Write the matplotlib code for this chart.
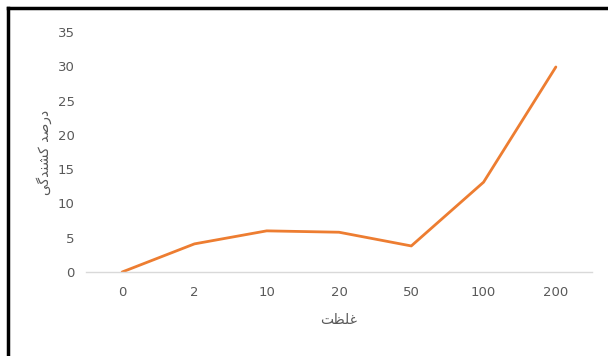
import matplotlib
matplotlib.use("Agg")
import matplotlib.pyplot as plt
from matplotlib.lines import Line2D

categories = ["0", "2", "10", "20", "50", "100", "200"]
mortality = [0, 4.1, 6.0, 5.8, 3.8, 13.1, 29.9]
y_ticks = [0, 5, 10, 15, 20, 25, 30, 35]

# Persian labels in shaped presentation forms, visual order
y_label = "\uFBFD\uFB94\uFEAA\uFEE8\uFEB8\uFB90 \uFEAA\uFEBB\uFEAD\uFEA9"  # درصد کشندگی
x_label = "\uFE96\uFEC8\uFEE0\uFECF"  # غلظت

plt.rcParams['font.family'] = ['DejaVu Sans', 'Noto Sans']

W, H = 608, 356
fig = plt.figure(figsize=(W / 100, H / 100), dpi=100)
ax = fig.add_axes([86 / W, 1 - 272 / H, (592 - 86) / W, (272 - 32) / H])

x = list(range(len(categories)))
ax.plot(x, mortality, color="#ED7D31", linewidth=2.0, solid_capstyle="round")

ax.set_xlim(-0.5, len(categories) - 0.5)
ax.set_ylim(0, 35)
ax.set_yticks(y_ticks)
ax.set_xticks(x)
ax.set_xticklabels(categories)
ax.tick_params(axis="both", length=0, colors="#595959", labelsize=9.5)
ax.tick_params(axis="y", pad=8)
ax.tick_params(axis="x", pad=10)

for s in ["top", "right", "left"]:
    ax.spines[s].set_visible(False)
ax.spines["bottom"].set_color("#D9D9D9")
ax.spines["bottom"].set_linewidth(1)

ax.set_xlabel(x_label, color="#595959", fontsize=10, labelpad=10)
ax.set_ylabel(y_label, color="#595959", fontsize=10, rotation=90, labelpad=4)

# outer frame (left and top edges visible)
fig.add_artist(Line2D([8 / W, 8 / W], [0, 1 - 8 / H], transform=fig.transFigure, color="black", linewidth=2.5))
fig.add_artist(Line2D([8 / W, 1], [1 - 8 / H, 1 - 8 / H], transform=fig.transFigure, color="black", linewidth=2.5))

fig.savefig("out.png", dpi=100, facecolor="white")
